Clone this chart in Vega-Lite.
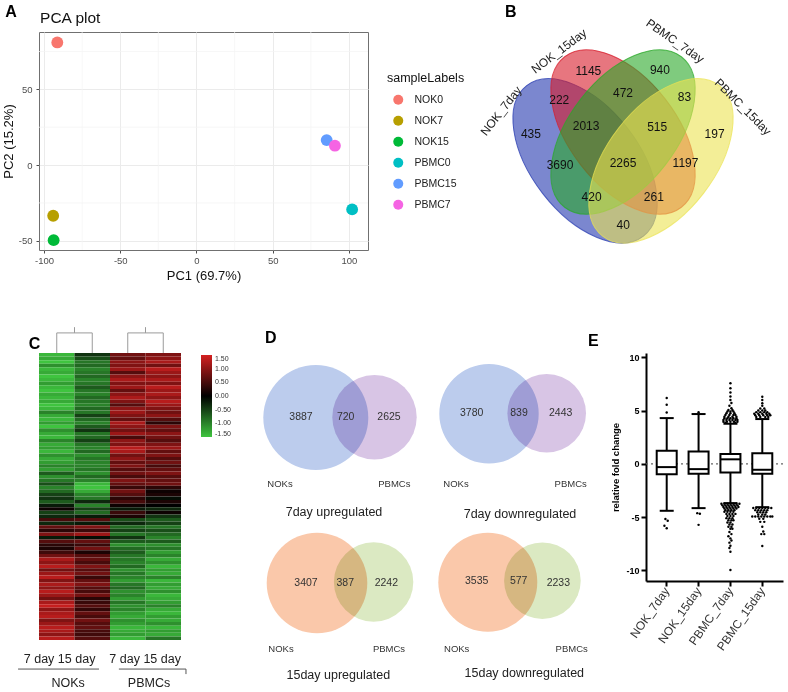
{
"$schema":"https://vega.github.io/schema/vega-lite/v6.json",
"background":"white",
"padding":{"left":1,"top":3,"right":0,"bottom":0},
"autosize":{"type":"pad"},
"config":{"font":"Liberation Sans","view":{"stroke":null}},
"bounds":"flush",
"spacing":321,
"resolve":{"scale":{"color":"independent","fill":"independent","stroke":"independent","size":"independent","opacity":"independent","xOffset":"independent"},"legend":{"color":"independent","fill":"independent","stroke":"independent","size":"independent"}},
"vconcat":[
{"hconcat":[
 {"width":329,"height":218,
  "view":{"stroke":"#707070","strokeWidth":1},
  "layer":[
   {"data":{"values":[{"PC1":-75},{"PC1":-25},{"PC1":25},{"PC1":75}]},
    "mark":{"type":"rule","stroke":"#f3f3f3","strokeWidth":0.7},
    "encoding":{"x":{"field":"PC1","type":"quantitative","scale":{"domain":[-103.3,112.5],"nice":false,"zero":false},"axis":{"values":[-100,-50,0,50,100],"labelExpr":"replace(datum.label, '\u2212', '-')","grid":true,"gridColor":"#ebebeb","gridWidth":1,"domain":false,"tickColor":"#4d4d4d","tickSize":3,"labelColor":"#4d4d4d","labelFontSize":9.5,"labelPadding":2,"title":"PC1 (69.7%)","titleFontSize":13,"titleFontWeight":"normal","titleColor":"#111","titlePadding":5}}}},
   {"data":{"values":[{"PC2":-25},{"PC2":25},{"PC2":75}]},
    "mark":{"type":"rule","stroke":"#f3f3f3","strokeWidth":0.7},
    "encoding":{"y":{"field":"PC2","type":"quantitative","scale":{"domain":[-56.1,87.9],"nice":false,"zero":false},"axis":{"values":[-50,0,50],"labelExpr":"replace(datum.label, '\u2212', '-')","grid":true,"gridColor":"#ebebeb","gridWidth":1,"domain":false,"tickColor":"#4d4d4d","tickSize":3,"labelColor":"#4d4d4d","labelFontSize":9.5,"labelPadding":4,"title":"PC2 (15.2%)","titleFontSize":13,"titleFontWeight":"normal","titleColor":"#111","titlePadding":3}}}},
   {"data":{"values":[
     {"sample":"NOK0","PC1":-91.3,"PC2":81.0},
     {"sample":"NOK7","PC1":-94.0,"PC2":-33.5},
     {"sample":"NOK15","PC1":-93.7,"PC2":-49.6},
     {"sample":"PBMC0","PC1":102.1,"PC2":-29.3},
     {"sample":"PBMC15","PC1":85.4,"PC2":16.5},
     {"sample":"PBMC7","PC1":90.8,"PC2":12.8}]},
    "mark":{"type":"point","filled":true,"size":140,"opacity":1},
    "encoding":{
     "x":{"field":"PC1","type":"quantitative"},
     "y":{"field":"PC2","type":"quantitative"},
     "color":{"field":"sample","type":"nominal","scale":{"domain":["NOK0","NOK7","NOK15","PBMC0","PBMC15","PBMC7"],"range":["#F8766D","#B79F00","#00BA38","#00BFC4","#619CFF","#F564E3"]},
      "legend":{"title":"sampleLabels","orient":"none","legendX":348,"legendY":40,"titleFontSize":12.5,"titleFontWeight":"normal","titleColor":"#111","titlePadding":10,"labelFontSize":10.5,"labelColor":"#222","symbolSize":100,"symbolType":"circle","symbolOffset":6,"labelOffset":11,"rowPadding":10,"symbolStrokeWidth":0,"symbolOpacity":1}}}},
   {"data":{"values":[{"t":"A"}]},
    "mark":{"type":"text","fontSize":16,"fontWeight":"bold","color":"#000"},
    "encoding":{"x":{"datum":-121.6,"type":"quantitative"},"y":{"datum":101.1,"type":"quantitative"},"text":{"field":"t"}}},
   {"data":{"values":[{"t":"PCA plot"}]},
    "mark":{"type":"text","fontSize":15.5,"align":"left","color":"#111"},
    "encoding":{"x":{"datum":-102.6,"type":"quantitative"},"y":{"datum":97.1,"type":"quantitative"},"text":{"field":"t"}}}
  ]},
 {"width":318,"height":218,
  "layer":[
   {"data":{"values":[{"set":"NOK_7day","u":0.35,"v":0.47},{"set":"NOK_15day","u":0.5,"v":0.57}]},
    "mark":{"type":"point","shape":"M 1 0 C 1 0.3105 0.5523 0.5622 0 0.5622 C -0.5523 0.5622 -1 0.3105 -1 0 C -1 -0.3105 -0.5523 -0.5622 0 -0.5622 C 0.5523 -0.5622 1 -0.3105 1 0 Z","size":36290,"angle":52.2,"filled":true,"opacity":1,"fillOpacity":0.6,"strokeOpacity":0.75,"strokeWidth":1},
    "encoding":{"x":{"field":"u","type":"quantitative","scale":{"domain":[-0.1047,1.152],"nice":false,"zero":false},"axis":null},
     "y":{"field":"v","type":"quantitative","scale":{"domain":[0.1603,0.9172],"nice":false,"zero":false},"axis":null},
     "fill":{"field":"set","type":"nominal","scale":{"domain":["NOK_7day","NOK_15day","PBMC_7day","PBMC_15day"],"range":["#2337AF","#D71B2A","#2AA828","#EBE352"]},"legend":null},
     "stroke":{"field":"set","type":"nominal","scale":{"domain":["NOK_7day","NOK_15day","PBMC_7day","PBMC_15day"],"range":["#2337AF","#D71B2A","#2AA828","#EBE352"]},"legend":null}}},
   {"data":{"values":[{"set":"PBMC_7day","u":0.5,"v":0.57},{"set":"PBMC_15day","u":0.65,"v":0.47}]},
    "mark":{"type":"point","shape":"M 1 0 C 1 0.3105 0.5523 0.5622 0 0.5622 C -0.5523 0.5622 -1 0.3105 -1 0 C -1 -0.3105 -0.5523 -0.5622 0 -0.5622 C 0.5523 -0.5622 1 -0.3105 1 0 Z","size":36290,"angle":-52.2,"filled":true,"opacity":1,"fillOpacity":0.6,"strokeOpacity":0.75,"strokeWidth":1},
    "encoding":{"x":{"field":"u","type":"quantitative","axis":null},
     "y":{"field":"v","type":"quantitative","axis":null},
     "fill":{"field":"set","type":"nominal","legend":null},
     "stroke":{"field":"set","type":"nominal","legend":null}}},
   {"data":{"values":[
     {"n":"435","u":0.136,"v":0.562},{"n":"222","u":0.248,"v":0.681},{"n":"1145","u":0.363,"v":0.782},
     {"n":"472","u":0.5,"v":0.704},{"n":"940","u":0.646,"v":0.786},{"n":"83","u":0.743,"v":0.69},
     {"n":"197","u":0.862,"v":0.563},{"n":"2013","u":0.354,"v":0.591},{"n":"515","u":0.635,"v":0.588},
     {"n":"3690","u":0.251,"v":0.455},{"n":"2265","u":0.5,"v":0.461},{"n":"1197","u":0.747,"v":0.461},
     {"n":"420","u":0.376,"v":0.344},{"n":"261","u":0.622,"v":0.344},{"n":"40","u":0.501,"v":0.247}]},
    "mark":{"type":"text","fontSize":12,"color":"#111"},
    "encoding":{"x":{"field":"u","type":"quantitative","axis":null},"y":{"field":"v","type":"quantitative","axis":null},"text":{"field":"n"}}},
   {"data":{"values":[{"lab":"NOK_7day","u":0.018,"v":0.643}]},
    "mark":{"type":"text","fontSize":12,"angle":-52,"color":"#222"},
    "encoding":{"x":{"field":"u","type":"quantitative","axis":null},"y":{"field":"v","type":"quantitative","axis":null},"text":{"field":"lab"}}},
   {"data":{"values":[{"lab":"NOK_15day","u":0.247,"v":0.851}]},
    "mark":{"type":"text","fontSize":12,"angle":-37,"color":"#222"},
    "encoding":{"x":{"field":"u","type":"quantitative","axis":null},"y":{"field":"v","type":"quantitative","axis":null},"text":{"field":"lab"}}},
   {"data":{"values":[{"lab":"PBMC_7day","u":0.706,"v":0.886}]},
    "mark":{"type":"text","fontSize":12,"angle":35,"color":"#222"},
    "encoding":{"x":{"field":"u","type":"quantitative","axis":null},"y":{"field":"v","type":"quantitative","axis":null},"text":{"field":"lab"}}},
   {"data":{"values":[{"lab":"PBMC_15day","u":0.974,"v":0.657}]},
    "mark":{"type":"text","fontSize":12,"angle":45,"color":"#222"},
    "encoding":{"x":{"field":"u","type":"quantitative","axis":null},"y":{"field":"v","type":"quantitative","axis":null},"text":{"field":"lab"}}},
   {"data":{"values":[{"lab":"B","u":0.056,"v":0.987}]},
    "mark":{"type":"text","fontSize":16,"fontWeight":"bold","color":"#000"},
    "encoding":{"x":{"field":"u","type":"quantitative","axis":null},"y":{"field":"v","type":"quantitative","axis":null},"text":{"field":"lab"}}}
  ]}
 ],
 "spacing":102,"bounds":"flush",
 "resolve":{"scale":{"color":"independent","fill":"independent","stroke":"independent","size":"independent","opacity":"independent","xOffset":"independent"},"legend":{"color":"independent","fill":"independent","stroke":"independent","size":"independent"}}},
{"hconcat":[
 {"width":142,"height":287,
  "resolve":{"scale":{"x":"independent","y":"independent"}},
  "layer":[
   {"data":{"values":[
{"r":0,"c":"N7","v":-1.4},{"r":0,"c":"N15","v":-0.4},{"r":0,"c":"P7","v":0.8},{"r":0,"c":"P15","v":0.9},
{"r":1,"c":"N7","v":-1.3},{"r":1,"c":"N15","v":-0.6},{"r":1,"c":"P7","v":0.7},{"r":1,"c":"P15","v":1.0},
{"r":2,"c":"N7","v":-1.5},{"r":2,"c":"N15","v":-0.9},{"r":2,"c":"P7","v":1.0},{"r":2,"c":"P15","v":1.2},
{"r":3,"c":"N7","v":-1.1},{"r":3,"c":"N15","v":-0.8},{"r":3,"c":"P7","v":0.9},{"r":3,"c":"P15","v":0.8},
{"r":4,"c":"N7","v":-1.4},{"r":4,"c":"N15","v":-1.0},{"r":4,"c":"P7","v":1.1},{"r":4,"c":"P15","v":1.3},
{"r":5,"c":"N7","v":-1.3},{"r":5,"c":"N15","v":-0.9},{"r":5,"c":"P7","v":0.6},{"r":5,"c":"P15","v":1.1},
{"r":6,"c":"N7","v":-1.5},{"r":6,"c":"N15","v":-0.8},{"r":6,"c":"P7","v":1.0},{"r":6,"c":"P15","v":1.0},
{"r":7,"c":"N7","v":-1.4},{"r":7,"c":"N15","v":-1.0},{"r":7,"c":"P7","v":1.2},{"r":7,"c":"P15","v":1.2},
{"r":8,"c":"N7","v":-1.2},{"r":8,"c":"N15","v":-0.9},{"r":8,"c":"P7","v":0.9},{"r":8,"c":"P15","v":0.9},
{"r":9,"c":"N7","v":-1.4},{"r":9,"c":"N15","v":-0.7},{"r":9,"c":"P7","v":1.1},{"r":9,"c":"P15","v":1.3},
{"r":10,"c":"N7","v":-1.5},{"r":10,"c":"N15","v":-0.9},{"r":10,"c":"P7","v":0.7},{"r":10,"c":"P15","v":1.1},
{"r":11,"c":"N7","v":-1.3},{"r":11,"c":"N15","v":-1.0},{"r":11,"c":"P7","v":1.0},{"r":11,"c":"P15","v":1.2},
{"r":12,"c":"N7","v":-1.4},{"r":12,"c":"N15","v":-0.8},{"r":12,"c":"P7","v":1.2},{"r":12,"c":"P15","v":1.0},
{"r":13,"c":"N7","v":-1.3},{"r":13,"c":"N15","v":-0.9},{"r":13,"c":"P7","v":0.9},{"r":13,"c":"P15","v":1.3},
{"r":14,"c":"N7","v":-1.5},{"r":14,"c":"N15","v":-1.0},{"r":14,"c":"P7","v":0.6},{"r":14,"c":"P15","v":1.1},
{"r":15,"c":"N7","v":-1.4},{"r":15,"c":"N15","v":-0.8},{"r":15,"c":"P7","v":1.0},{"r":15,"c":"P15","v":0.9},
{"r":16,"c":"N7","v":-1.0},{"r":16,"c":"N15","v":-0.9},{"r":16,"c":"P7","v":1.1},{"r":16,"c":"P15","v":0.8},
{"r":17,"c":"N7","v":-1.3},{"r":17,"c":"N15","v":-0.5},{"r":17,"c":"P7","v":0.9},{"r":17,"c":"P15","v":1.0},
{"r":18,"c":"N7","v":-1.4},{"r":18,"c":"N15","v":-0.8},{"r":18,"c":"P7","v":0.7},{"r":18,"c":"P15","v":0.6},
{"r":19,"c":"N7","v":-1.2},{"r":19,"c":"N15","v":-1.0},{"r":19,"c":"P7","v":1.2},{"r":19,"c":"P15","v":0.3},
{"r":20,"c":"N7","v":-1.5},{"r":20,"c":"N15","v":-0.7},{"r":20,"c":"P7","v":1.0},{"r":20,"c":"P15","v":0.9},
{"r":21,"c":"N7","v":-1.1},{"r":21,"c":"N15","v":-0.4},{"r":21,"c":"P7","v":0.8},{"r":21,"c":"P15","v":0.7},
{"r":22,"c":"N7","v":-1.3},{"r":22,"c":"N15","v":-0.9},{"r":22,"c":"P7","v":1.1},{"r":22,"c":"P15","v":1.0},
{"r":23,"c":"N7","v":-1.4},{"r":23,"c":"N15","v":-0.8},{"r":23,"c":"P7","v":0.5},{"r":23,"c":"P15","v":0.8},
{"r":24,"c":"N7","v":-1.0},{"r":24,"c":"N15","v":-0.5},{"r":24,"c":"P7","v":1.0},{"r":24,"c":"P15","v":0.6},
{"r":25,"c":"N7","v":-1.3},{"r":25,"c":"N15","v":-0.9},{"r":25,"c":"P7","v":0.9},{"r":25,"c":"P15","v":0.9},
{"r":26,"c":"N7","v":-1.2},{"r":26,"c":"N15","v":-1.0},{"r":26,"c":"P7","v":1.3},{"r":26,"c":"P15","v":1.1},
{"r":27,"c":"N7","v":-1.4},{"r":27,"c":"N15","v":-0.8},{"r":27,"c":"P7","v":1.2},{"r":27,"c":"P15","v":0.7},
{"r":28,"c":"N7","v":-1.1},{"r":28,"c":"N15","v":-1.1},{"r":28,"c":"P7","v":0.8},{"r":28,"c":"P15","v":0.9},
{"r":29,"c":"N7","v":-1.3},{"r":29,"c":"N15","v":-0.9},{"r":29,"c":"P7","v":1.0},{"r":29,"c":"P15","v":0.6},
{"r":30,"c":"N7","v":-1.2},{"r":30,"c":"N15","v":-1.0},{"r":30,"c":"P7","v":0.7},{"r":30,"c":"P15","v":0.8},
{"r":31,"c":"N7","v":-1.0},{"r":31,"c":"N15","v":-1.0},{"r":31,"c":"P7","v":0.9},{"r":31,"c":"P15","v":0.5},
{"r":32,"c":"N7","v":-1.2},{"r":32,"c":"N15","v":-0.9},{"r":32,"c":"P7","v":0.6},{"r":32,"c":"P15","v":0.7},
{"r":33,"c":"N7","v":-0.7},{"r":33,"c":"N15","v":-1.1},{"r":33,"c":"P7","v":0.8},{"r":33,"c":"P15","v":0.9},
{"r":34,"c":"N7","v":-1.1},{"r":34,"c":"N15","v":-0.8},{"r":34,"c":"P7","v":0.5},{"r":34,"c":"P15","v":0.6},
{"r":35,"c":"N7","v":-0.9},{"r":35,"c":"N15","v":-1.0},{"r":35,"c":"P7","v":0.9},{"r":35,"c":"P15","v":0.7},
{"r":36,"c":"N7","v":-0.6},{"r":36,"c":"N15","v":-1.4},{"r":36,"c":"P7","v":0.7},{"r":36,"c":"P15","v":0.8},
{"r":37,"c":"N7","v":-1.0},{"r":37,"c":"N15","v":-1.5},{"r":37,"c":"P7","v":0.4},{"r":37,"c":"P15","v":0.3},
{"r":38,"c":"N7","v":-0.8},{"r":38,"c":"N15","v":-1.3},{"r":38,"c":"P7","v":0.8},{"r":38,"c":"P15","v":0.1},
{"r":39,"c":"N7","v":-0.5},{"r":39,"c":"N15","v":-1.0},{"r":39,"c":"P7","v":0.6},{"r":39,"c":"P15","v":0.2},
{"r":40,"c":"N7","v":-0.4},{"r":40,"c":"N15","v":-0.9},{"r":40,"c":"P7","v":0.3},{"r":40,"c":"P15","v":-0.1},
{"r":41,"c":"N7","v":-0.7},{"r":41,"c":"N15","v":-0.3},{"r":41,"c":"P7","v":0.5},{"r":41,"c":"P15","v":0.2},
{"r":42,"c":"N7","v":-0.2},{"r":42,"c":"N15","v":-1.0},{"r":42,"c":"P7","v":0.1},{"r":42,"c":"P15","v":0.0},
{"r":43,"c":"N7","v":0.1},{"r":43,"c":"N15","v":-0.5},{"r":43,"c":"P7","v":-0.2},{"r":43,"c":"P15","v":-0.3},
{"r":44,"c":"N7","v":-0.5},{"r":44,"c":"N15","v":-0.8},{"r":44,"c":"P7","v":0.4},{"r":44,"c":"P15","v":0.1},
{"r":45,"c":"N7","v":-0.3},{"r":45,"c":"N15","v":-0.2},{"r":45,"c":"P7","v":0.2},{"r":45,"c":"P15","v":-0.4},
{"r":46,"c":"N7","v":0.5},{"r":46,"c":"N15","v":0.6},{"r":46,"c":"P7","v":-0.6},{"r":46,"c":"P15","v":-0.7},
{"r":47,"c":"N7","v":-0.3},{"r":47,"c":"N15","v":-0.2},{"r":47,"c":"P7","v":-0.3},{"r":47,"c":"P15","v":-0.5},
{"r":48,"c":"N7","v":0.7},{"r":48,"c":"N15","v":0.9},{"r":48,"c":"P7","v":-0.8},{"r":48,"c":"P15","v":-0.9},
{"r":49,"c":"N7","v":0.3},{"r":49,"c":"N15","v":0.4},{"r":49,"c":"P7","v":-0.5},{"r":49,"c":"P15","v":-0.6},
{"r":50,"c":"N7","v":0.9},{"r":50,"c":"N15","v":1.1},{"r":50,"c":"P7","v":-0.9},{"r":50,"c":"P15","v":-0.8},
{"r":51,"c":"N7","v":-0.2},{"r":51,"c":"N15","v":-0.1},{"r":51,"c":"P7","v":-0.4},{"r":51,"c":"P15","v":-1.0},
{"r":52,"c":"N7","v":0.6},{"r":52,"c":"N15","v":0.7},{"r":52,"c":"P7","v":-0.7},{"r":52,"c":"P15","v":-0.7},
{"r":53,"c":"N7","v":0.3},{"r":53,"c":"N15","v":0.4},{"r":53,"c":"P7","v":-1.1},{"r":53,"c":"P15","v":-1.1},
{"r":54,"c":"N7","v":0.2},{"r":54,"c":"N15","v":0.8},{"r":54,"c":"P7","v":-0.8},{"r":54,"c":"P15","v":-0.9},
{"r":55,"c":"N7","v":0.45},{"r":55,"c":"N15","v":0.2},{"r":55,"c":"P7","v":-0.7},{"r":55,"c":"P15","v":-1.2},
{"r":56,"c":"N7","v":0.8},{"r":56,"c":"N15","v":0.6},{"r":56,"c":"P7","v":-0.9},{"r":56,"c":"P15","v":-1.0},
{"r":57,"c":"N7","v":1.2},{"r":57,"c":"N15","v":0.7},{"r":57,"c":"P7","v":-0.9},{"r":57,"c":"P15","v":-1.3},
{"r":58,"c":"N7","v":1.0},{"r":58,"c":"N15","v":0.5},{"r":58,"c":"P7","v":-1.0},{"r":58,"c":"P15","v":-1.1},
{"r":59,"c":"N7","v":1.3},{"r":59,"c":"N15","v":0.9},{"r":59,"c":"P7","v":-0.8},{"r":59,"c":"P15","v":-1.4},
{"r":60,"c":"N7","v":0.8},{"r":60,"c":"N15","v":0.6},{"r":60,"c":"P7","v":-1.1},{"r":60,"c":"P15","v":-1.2},
{"r":61,"c":"N7","v":1.1},{"r":61,"c":"N15","v":0.8},{"r":61,"c":"P7","v":-0.9},{"r":61,"c":"P15","v":-1.3},
{"r":62,"c":"N7","v":1.3},{"r":62,"c":"N15","v":0.4},{"r":62,"c":"P7","v":-1.0},{"r":62,"c":"P15","v":-1.0},
{"r":63,"c":"N7","v":0.9},{"r":63,"c":"N15","v":0.7},{"r":63,"c":"P7","v":-1.2},{"r":63,"c":"P15","v":-1.4},
{"r":64,"c":"N7","v":1.2},{"r":64,"c":"N15","v":0.9},{"r":64,"c":"P7","v":-0.9},{"r":64,"c":"P15","v":-1.2},
{"r":65,"c":"N7","v":1.0},{"r":65,"c":"N15","v":0.6},{"r":65,"c":"P7","v":-0.8},{"r":65,"c":"P15","v":-1.3},
{"r":66,"c":"N7","v":1.3},{"r":66,"c":"N15","v":0.5},{"r":66,"c":"P7","v":-1.1},{"r":66,"c":"P15","v":-1.1},
{"r":67,"c":"N7","v":1.1},{"r":67,"c":"N15","v":0.8},{"r":67,"c":"P7","v":-1.0},{"r":67,"c":"P15","v":-1.4},
{"r":68,"c":"N7","v":0.8},{"r":68,"c":"N15","v":0.3},{"r":68,"c":"P7","v":-1.2},{"r":68,"c":"P15","v":-1.3},
{"r":69,"c":"N7","v":1.2},{"r":69,"c":"N15","v":0.4},{"r":69,"c":"P7","v":-0.9},{"r":69,"c":"P15","v":-1.2},
{"r":70,"c":"N7","v":1.4},{"r":70,"c":"N15","v":0.6},{"r":70,"c":"P7","v":-1.1},{"r":70,"c":"P15","v":-1.0},
{"r":71,"c":"N7","v":1.0},{"r":71,"c":"N15","v":0.35},{"r":71,"c":"P7","v":-1.0},{"r":71,"c":"P15","v":-1.3},
{"r":72,"c":"N7","v":1.2},{"r":72,"c":"N15","v":0.7},{"r":72,"c":"P7","v":-1.2},{"r":72,"c":"P15","v":-1.4},
{"r":73,"c":"N7","v":1.3},{"r":73,"c":"N15","v":0.5},{"r":73,"c":"P7","v":-1.3},{"r":73,"c":"P15","v":-1.2},
{"r":74,"c":"N7","v":0.9},{"r":74,"c":"N15","v":0.8},{"r":74,"c":"P7","v":-1.1},{"r":74,"c":"P15","v":-1.3},
{"r":75,"c":"N7","v":1.1},{"r":75,"c":"N15","v":0.6},{"r":75,"c":"P7","v":-1.2},{"r":75,"c":"P15","v":-1.1},
{"r":76,"c":"N7","v":1.3},{"r":76,"c":"N15","v":0.7},{"r":76,"c":"P7","v":-1.4},{"r":76,"c":"P15","v":-1.4},
{"r":77,"c":"N7","v":1.2},{"r":77,"c":"N15","v":0.5},{"r":77,"c":"P7","v":-1.3},{"r":77,"c":"P15","v":-1.2},
{"r":78,"c":"N7","v":1.0},{"r":78,"c":"N15","v":0.45},{"r":78,"c":"P7","v":-1.2},{"r":78,"c":"P15","v":-1.3},
{"r":79,"c":"N7","v":1.3},{"r":79,"c":"N15","v":0.6},{"r":79,"c":"P7","v":-1.4},{"r":79,"c":"P15","v":-0.9}
    ]},
    "mark":{"type":"rect"},
    "encoding":{
     "x":{"field":"c","type":"nominal","sort":["N7","N15","P7","P15"],"scale":{"type":"band","paddingInner":0,"paddingOuter":0},"axis":null},
     "y":{"field":"r","type":"ordinal","scale":{"type":"band","paddingInner":0,"paddingOuter":0},"axis":null},
     "color":{"field":"v","type":"quantitative","scale":{"domain":[-1.5,0,1.5],"range":["#3fc43f","#000000","#d42020"],"clamp":true,"interpolate":"rgb"},
      "legend":{"type":"gradient","title":null,"orient":"none","legendX":162,"legendY":2,"direction":"vertical","gradientLength":82,"gradientThickness":11,"values":[-1.5,-1,-0.5,0,0.5,1,1.5],"format":".2f","labelExpr":"replace(datum.label, '\u2212', '-')","labelFontSize":7,"labelColor":"#333","labelOffset":3,"labelOverlap":false,"gradientStrokeWidth":0}}}},
   {"data":{"values":[
     {"cx":0.5,"cx2":0.5,"cy":0,"cy2":-5.6},{"cx":1.5,"cx2":1.5,"cy":0,"cy2":-5.6},{"cx":0.5,"cx2":1.5,"cy":-5.6,"cy2":-5.6},{"cx":1,"cx2":1,"cy":-5.6,"cy2":-7.2},
     {"cx":2.5,"cx2":2.5,"cy":0,"cy2":-5.6},{"cx":3.5,"cx2":3.5,"cy":0,"cy2":-5.6},{"cx":2.5,"cx2":3.5,"cy":-5.6,"cy2":-5.6},{"cx":3,"cx2":3,"cy":-5.6,"cy2":-7.2}]},
    "mark":{"type":"rule","stroke":"#9a9a9a","strokeWidth":1},
    "encoding":{"x":{"field":"cx","type":"quantitative","scale":{"domain":[0,4],"nice":false,"zero":false},"axis":null},"x2":{"field":"cx2"},
     "y":{"field":"cy","type":"quantitative","scale":{"domain":[0,80],"reverse":true,"nice":false,"zero":false},"axis":null},"y2":{"field":"cy2"}}},
   {"data":{"values":[
     {"cx":-0.59,"cx2":1.69,"cy":88.1,"cy2":88.1},{"cx":2.25,"cx2":4.14,"cy":88.1,"cy2":88.1},{"cx":4.14,"cx2":4.14,"cy":88.1,"cy2":89.5}]},
    "mark":{"type":"rule","stroke":"#555","strokeWidth":1},
    "encoding":{"x":{"field":"cx","type":"quantitative","scale":{"domain":[0,4],"nice":false,"zero":false},"axis":null},"x2":{"field":"cx2"},
     "y":{"field":"cy","type":"quantitative","scale":{"domain":[0,80],"reverse":true,"nice":false,"zero":false},"axis":null},"y2":{"field":"cy2"}}},
   {"data":{"values":[
     {"cx":0.58,"cy":85.3,"t":"7 day 15 day"},{"cx":2.99,"cy":85.3,"t":"7 day 15 day"},
     {"cx":0.82,"cy":92,"t":"NOKs"},{"cx":3.1,"cy":92,"t":"PBMCs"}]},
    "mark":{"type":"text","fontSize":12.5,"color":"#222"},
    "encoding":{"x":{"field":"cx","type":"quantitative","scale":{"domain":[0,4],"nice":false,"zero":false},"axis":null},
     "y":{"field":"cy","type":"quantitative","scale":{"domain":[0,80],"reverse":true,"nice":false,"zero":false},"axis":null},"text":{"field":"t"}}},
   {"data":{"values":[{"cx":-0.127,"cy":-2.5,"t":"C"}]},
    "mark":{"type":"text","fontSize":16,"fontWeight":"bold","color":"#000"},
    "encoding":{"x":{"field":"cx","type":"quantitative","scale":{"domain":[0,4],"nice":false,"zero":false},"axis":null},
     "y":{"field":"cy","type":"quantitative","scale":{"domain":[0,80],"reverse":true,"nice":false,"zero":false},"axis":null},"text":{"field":"t"}}}
  ]},
 {"width":363,"height":330,
  "layer":[
   {"data":{"values":[
     {"k":"NOK7","x":6.08,"y":6.45,"r":5.25},{"k":"PB7","x":11.95,"y":6.42,"r":4.22},
     {"k":"NOK7","x":23.4,"y":6.07,"r":4.97},{"k":"PB7","x":29.17,"y":6.03,"r":3.93},
     {"k":"NOK15","x":6.2,"y":23.0,"r":5.03},{"k":"PB15","x":11.86,"y":22.9,"r":3.97},
     {"k":"NOK15","x":23.28,"y":22.92,"r":4.95},{"k":"PB15","x":28.74,"y":22.77,"r":3.83}]},
    "mark":{"type":"point","shape":"circle","filled":true,"opacity":1,"blend":"multiply"},
    "encoding":{"x":{"field":"x","type":"quantitative","scale":{"domain":[-2.3,34],"nice":false,"zero":false},"axis":null},
     "y":{"field":"y","type":"quantitative","scale":{"domain":[0,33],"reverse":true,"nice":false,"zero":false},"axis":null},
     "size":{"field":"r","type":"quantitative","scale":{"type":"pow","exponent":2,"domain":[0,10],"range":[0,40000],"zero":true},"legend":null},
     "fill":{"field":"k","type":"nominal","scale":{"domain":["NOK7","PB7","NOK15","PB15"],"range":["#bccced","#d8c5e5","#fac8aa","#dbe9c2"]},"legend":null}}},
   {"data":{"values":[
     {"x":4.6,"y":6.4,"t":"3887"},{"x":9.07,"y":6.4,"t":"720"},{"x":13.4,"y":6.4,"t":"2625"},
     {"x":21.67,"y":6.0,"t":"3780"},{"x":26.4,"y":6.0,"t":"839"},{"x":30.57,"y":6.0,"t":"2443"},
     {"x":5.1,"y":23.0,"t":"3407"},{"x":9.03,"y":23.0,"t":"387"},{"x":13.13,"y":23.0,"t":"2242"},
     {"x":22.17,"y":22.8,"t":"3535"},{"x":26.37,"y":22.8,"t":"577"},{"x":30.33,"y":23.0,"t":"2233"}]},
    "mark":{"type":"text","fontSize":10.5,"color":"#333"},
    "encoding":{"x":{"field":"x","type":"quantitative","axis":null},"y":{"field":"y","type":"quantitative","axis":null},"text":{"field":"t"}}},
   {"data":{"values":[
     {"x":2.5,"y":13.1,"t":"NOKs"},{"x":13.93,"y":13.1,"t":"PBMCs"},
     {"x":20.1,"y":13.1,"t":"NOKs"},{"x":31.57,"y":13.1,"t":"PBMCs"},
     {"x":2.6,"y":29.6,"t":"NOKs"},{"x":13.4,"y":29.6,"t":"PBMCs"},
     {"x":20.17,"y":29.6,"t":"NOKs"},{"x":31.67,"y":29.6,"t":"PBMCs"}]},
    "mark":{"type":"text","fontSize":9.5,"color":"#333"},
    "encoding":{"x":{"field":"x","type":"quantitative","axis":null},"y":{"field":"y","type":"quantitative","axis":null},"text":{"field":"t"}}},
   {"data":{"values":[
     {"x":7.9,"y":15.9,"t":"7day upregulated"},{"x":26.5,"y":16.07,"t":"7day downregulated"},
     {"x":8.33,"y":32.2,"t":"15day upregulated"},{"x":26.93,"y":32.03,"t":"15day downregulated"}]},
    "mark":{"type":"text","fontSize":12.5,"color":"#222"},
    "encoding":{"x":{"field":"x","type":"quantitative","axis":null},"y":{"field":"y","type":"quantitative","axis":null},"text":{"field":"t"}}},
   {"data":{"values":[{"x":1.57,"y":-1.47,"t":"D"}]},
    "mark":{"type":"text","fontSize":16,"fontWeight":"bold","color":"#000"},
    "encoding":{"x":{"field":"x","type":"quantitative","axis":null},"y":{"field":"y","type":"quantitative","axis":null},"text":{"field":"t"}}}
  ]},
 {"width":137,"height":228,
  "title":{"text":"E","anchor":"start","frame":"group","dx":-58,"fontSize":16,"fontWeight":"bold","color":"#000","offset":4},
  "data":{"values":[
    {"g":"NOK_7day","lo":-4.41,"q1":-0.97,"med":-0.31,"q3":1.22,"hi":4.29},
    {"g":"NOK_15day","lo":-4.16,"q1":-0.94,"med":-0.5,"q3":1.16,"hi":4.67},
    {"g":"PBMC_7day","lo":-3.69,"q1":-0.82,"med":0.42,"q3":0.93,"hi":3.76},
    {"g":"PBMC_15day","lo":-4.07,"q1":-0.94,"med":-0.56,"q3":1.0,"hi":4.2}]},
  "layer":[
   {"mark":{"type":"rule","stroke":"#000","strokeWidth":2},
    "encoding":{
     "x":{"field":"g","type":"nominal","scale":{"type":"band","domain":["NOK_7day","NOK_15day","PBMC_7day","PBMC_15day"],"paddingInner":0,"paddingOuter":0.15},
      "axis":{"title":null,"labelAngle":-55,"labelFontSize":12,"labelColor":"#333","domainColor":"#000","domainWidth":2,"tickColor":"#000","tickWidth":2,"tickSize":5,"labelPadding":2}},
     "y":{"field":"lo","type":"quantitative","scale":{"domain":[-11,10.4],"nice":false,"zero":false},
      "axis":{"values":[-10,-5,0,5,10],"labelExpr":"replace(datum.label, '\u2212', '-')","grid":false,"domainColor":"#000","domainWidth":2,"tickColor":"#000","tickWidth":2,"tickSize":5,"labelFontWeight":"bold","labelFontSize":9,"labelColor":"#000","labelPadding":2,"title":"relative fold change","titleFontSize":9.5,"titleFontWeight":"bold","titleColor":"#000","titlePadding":5}},
     "y2":{"field":"hi"}}},
   {"data":{"values":[{"lo":0}]},
    "mark":{"type":"rule","stroke":"#666","strokeDash":[2,3],"strokeWidth":1.2},
    "encoding":{"y":{"field":"lo","type":"quantitative"}}},
   {"mark":{"type":"bar","width":20,"fill":"#fff","stroke":"#000","strokeWidth":2},
    "encoding":{"x":{"field":"g","type":"nominal"},"y":{"field":"q1","type":"quantitative"},"y2":{"field":"q3"}}},
   {"mark":{"type":"tick","color":"#000","thickness":2,"size":20,"opacity":1},
    "encoding":{"x":{"field":"g","type":"nominal"},"y":{"field":"med","type":"quantitative"}}},
   {"mark":{"type":"tick","color":"#000","thickness":2,"size":14,"opacity":1},
    "encoding":{"x":{"field":"g","type":"nominal"},"y":{"field":"lo","type":"quantitative"}}},
   {"mark":{"type":"tick","color":"#000","thickness":2,"size":14,"opacity":1},
    "encoding":{"x":{"field":"g","type":"nominal"},"y":{"field":"hi","type":"quantitative"}}},
   {"data":{"values":[
{"g":"NOK_7day","v":6.17,"j":0},{"g":"NOK_7day","v":5.54,"j":0},{"g":"NOK_7day","v":4.82,"j":0},
{"g":"NOK_7day","v":-5.19,"j":-0.13},{"g":"NOK_7day","v":-5.35,"j":0.1},{"g":"NOK_7day","v":-5.82,"j":-0.23},{"g":"NOK_7day","v":-6.04,"j":0},
{"g":"NOK_15day","v":4.85,"j":0},{"g":"NOK_15day","v":-4.63,"j":-0.13},{"g":"NOK_15day","v":-4.69,"j":0.13},{"g":"NOK_15day","v":-5.73,"j":0},
{"g":"PBMC_7day","v":7.56,"j":0},{"g":"PBMC_7day","v":7.09,"j":0},{"g":"PBMC_7day","v":6.69,"j":0},{"g":"PBMC_7day","v":6.32,"j":0},
{"g":"PBMC_7day","v":5.99,"j":0},{"g":"PBMC_7day","v":5.7,"j":0.1},{"g":"PBMC_7day","v":5.44,"j":-0.1},{"g":"PBMC_7day","v":5.22,"j":0.1},
{"g":"PBMC_7day","v":5.05,"j":-0.2},{"g":"PBMC_7day","v":5.05,"j":0.2},
{"g":"PBMC_7day","v":4.9,"j":-0.3},{"g":"PBMC_7day","v":4.9,"j":0},{"g":"PBMC_7day","v":4.9,"j":0.3},
{"g":"PBMC_7day","v":4.74,"j":-0.4},{"g":"PBMC_7day","v":4.74,"j":0},{"g":"PBMC_7day","v":4.74,"j":0.4},
{"g":"PBMC_7day","v":4.58,"j":-0.5},{"g":"PBMC_7day","v":4.58,"j":-0.1},{"g":"PBMC_7day","v":4.58,"j":0.3},{"g":"PBMC_7day","v":4.58,"j":0.5},
{"g":"PBMC_7day","v":4.42,"j":-0.6},{"g":"PBMC_7day","v":4.42,"j":-0.2},{"g":"PBMC_7day","v":4.42,"j":0.2},{"g":"PBMC_7day","v":4.42,"j":0.6},
{"g":"PBMC_7day","v":4.27,"j":-0.6},{"g":"PBMC_7day","v":4.27,"j":-0.3},{"g":"PBMC_7day","v":4.27,"j":0},{"g":"PBMC_7day","v":4.27,"j":0.3},{"g":"PBMC_7day","v":4.27,"j":0.6},
{"g":"PBMC_7day","v":4.11,"j":-0.7},{"g":"PBMC_7day","v":4.11,"j":-0.4},{"g":"PBMC_7day","v":4.11,"j":-0.1},{"g":"PBMC_7day","v":4.11,"j":0.2},{"g":"PBMC_7day","v":4.11,"j":0.5},{"g":"PBMC_7day","v":4.11,"j":0.7},
{"g":"PBMC_7day","v":3.95,"j":-0.7},{"g":"PBMC_7day","v":3.95,"j":-0.35},{"g":"PBMC_7day","v":3.95,"j":0},{"g":"PBMC_7day","v":3.95,"j":0.35},{"g":"PBMC_7day","v":3.95,"j":0.7},
{"g":"PBMC_7day","v":3.85,"j":-0.5},{"g":"PBMC_7day","v":3.85,"j":0.5},
{"g":"PBMC_7day","v":-3.75,"j":-0.9},{"g":"PBMC_7day","v":-3.75,"j":-0.6},{"g":"PBMC_7day","v":-3.75,"j":-0.3},{"g":"PBMC_7day","v":-3.75,"j":0},{"g":"PBMC_7day","v":-3.75,"j":0.3},{"g":"PBMC_7day","v":-3.75,"j":0.6},{"g":"PBMC_7day","v":-3.75,"j":0.9},
{"g":"PBMC_7day","v":-3.9,"j":-0.8},{"g":"PBMC_7day","v":-3.9,"j":-0.5},{"g":"PBMC_7day","v":-3.9,"j":-0.2},{"g":"PBMC_7day","v":-3.9,"j":0.1},{"g":"PBMC_7day","v":-3.9,"j":0.4},{"g":"PBMC_7day","v":-3.9,"j":0.7},
{"g":"PBMC_7day","v":-4.05,"j":-0.7},{"g":"PBMC_7day","v":-4.05,"j":-0.4},{"g":"PBMC_7day","v":-4.05,"j":-0.1},{"g":"PBMC_7day","v":-4.05,"j":0.2},{"g":"PBMC_7day","v":-4.05,"j":0.5},{"g":"PBMC_7day","v":-4.05,"j":0.8},
{"g":"PBMC_7day","v":-4.2,"j":-0.6},{"g":"PBMC_7day","v":-4.2,"j":-0.3},{"g":"PBMC_7day","v":-4.2,"j":0},{"g":"PBMC_7day","v":-4.2,"j":0.3},{"g":"PBMC_7day","v":-4.2,"j":0.6},
{"g":"PBMC_7day","v":-4.35,"j":-0.5},{"g":"PBMC_7day","v":-4.35,"j":-0.2},{"g":"PBMC_7day","v":-4.35,"j":0.1},{"g":"PBMC_7day","v":-4.35,"j":0.4},
{"g":"PBMC_7day","v":-4.5,"j":-0.6},{"g":"PBMC_7day","v":-4.5,"j":-0.3},{"g":"PBMC_7day","v":-4.5,"j":0},{"g":"PBMC_7day","v":-4.5,"j":0.3},
{"g":"PBMC_7day","v":-4.7,"j":-0.4},{"g":"PBMC_7day","v":-4.7,"j":-0.1},{"g":"PBMC_7day","v":-4.7,"j":0.2},{"g":"PBMC_7day","v":-4.7,"j":0.5},
{"g":"PBMC_7day","v":-4.9,"j":-0.3},{"g":"PBMC_7day","v":-4.9,"j":0},{"g":"PBMC_7day","v":-4.9,"j":0.3},
{"g":"PBMC_7day","v":-5.1,"j":-0.4},{"g":"PBMC_7day","v":-5.1,"j":-0.1},{"g":"PBMC_7day","v":-5.1,"j":0.2},
{"g":"PBMC_7day","v":-5.3,"j":-0.2},{"g":"PBMC_7day","v":-5.3,"j":0.1},{"g":"PBMC_7day","v":-5.3,"j":0.3},
{"g":"PBMC_7day","v":-5.5,"j":-0.3},{"g":"PBMC_7day","v":-5.5,"j":0},
{"g":"PBMC_7day","v":-5.7,"j":-0.1},{"g":"PBMC_7day","v":-5.7,"j":0.2},
{"g":"PBMC_7day","v":-5.9,"j":-0.2},{"g":"PBMC_7day","v":-5.9,"j":0.1},
{"g":"PBMC_7day","v":-6.1,"j":0},{"g":"PBMC_7day","v":-6.1,"j":0.2},
{"g":"PBMC_7day","v":-6.4,"j":-0.1},{"g":"PBMC_7day","v":-6.6,"j":0.1},{"g":"PBMC_7day","v":-6.8,"j":-0.2},{"g":"PBMC_7day","v":-7.0,"j":0},
{"g":"PBMC_7day","v":-7.2,"j":0.1},{"g":"PBMC_7day","v":-7.4,"j":-0.1},{"g":"PBMC_7day","v":-7.7,"j":0},{"g":"PBMC_7day","v":-7.9,"j":-0.1},
{"g":"PBMC_7day","v":-8.25,"j":0},{"g":"PBMC_7day","v":-9.97,"j":0},
{"g":"PBMC_15day","v":6.3,"j":0},{"g":"PBMC_15day","v":5.99,"j":0},{"g":"PBMC_15day","v":5.68,"j":0},{"g":"PBMC_15day","v":5.44,"j":0},
{"g":"PBMC_15day","v":5.2,"j":-0.2},{"g":"PBMC_15day","v":5.2,"j":0.2},
{"g":"PBMC_15day","v":5.0,"j":-0.4},{"g":"PBMC_15day","v":5.0,"j":0},{"g":"PBMC_15day","v":5.0,"j":0.3},
{"g":"PBMC_15day","v":4.85,"j":-0.6},{"g":"PBMC_15day","v":4.85,"j":-0.2},{"g":"PBMC_15day","v":4.85,"j":0.2},{"g":"PBMC_15day","v":4.85,"j":0.5},
{"g":"PBMC_15day","v":4.7,"j":-0.8},{"g":"PBMC_15day","v":4.7,"j":-0.4},{"g":"PBMC_15day","v":4.7,"j":0},{"g":"PBMC_15day","v":4.7,"j":0.4},{"g":"PBMC_15day","v":4.7,"j":0.7},
{"g":"PBMC_15day","v":4.55,"j":-0.7},{"g":"PBMC_15day","v":4.55,"j":-0.3},{"g":"PBMC_15day","v":4.55,"j":0.1},{"g":"PBMC_15day","v":4.55,"j":0.5},{"g":"PBMC_15day","v":4.55,"j":0.8},
{"g":"PBMC_15day","v":4.4,"j":-0.6},{"g":"PBMC_15day","v":4.4,"j":-0.2},{"g":"PBMC_15day","v":4.4,"j":0.3},{"g":"PBMC_15day","v":4.4,"j":0.6},
{"g":"PBMC_15day","v":-4.15,"j":-0.9},{"g":"PBMC_15day","v":-4.15,"j":-0.6},{"g":"PBMC_15day","v":-4.15,"j":-0.3},{"g":"PBMC_15day","v":-4.15,"j":0},{"g":"PBMC_15day","v":-4.15,"j":0.3},{"g":"PBMC_15day","v":-4.15,"j":0.6},{"g":"PBMC_15day","v":-4.15,"j":0.9},
{"g":"PBMC_15day","v":-4.35,"j":-0.7},{"g":"PBMC_15day","v":-4.35,"j":-0.4},{"g":"PBMC_15day","v":-4.35,"j":-0.1},{"g":"PBMC_15day","v":-4.35,"j":0.2},{"g":"PBMC_15day","v":-4.35,"j":0.5},
{"g":"PBMC_15day","v":-4.55,"j":-0.5},{"g":"PBMC_15day","v":-4.55,"j":-0.2},{"g":"PBMC_15day","v":-4.55,"j":0.1},{"g":"PBMC_15day","v":-4.55,"j":0.4},
{"g":"PBMC_15day","v":-4.75,"j":-0.4},{"g":"PBMC_15day","v":-4.75,"j":0},{"g":"PBMC_15day","v":-4.75,"j":0.3},
{"g":"PBMC_15day","v":-4.95,"j":-1.0},{"g":"PBMC_15day","v":-4.95,"j":-0.7},{"g":"PBMC_15day","v":-4.95,"j":-0.4},{"g":"PBMC_15day","v":-4.95,"j":-0.1},{"g":"PBMC_15day","v":-4.95,"j":0.2},{"g":"PBMC_15day","v":-4.95,"j":0.5},{"g":"PBMC_15day","v":-4.95,"j":0.8},{"g":"PBMC_15day","v":-4.95,"j":1.0},
{"g":"PBMC_15day","v":-5.15,"j":-0.3},{"g":"PBMC_15day","v":-5.15,"j":0.1},
{"g":"PBMC_15day","v":-5.45,"j":-0.2},{"g":"PBMC_15day","v":-5.45,"j":0.2},
{"g":"PBMC_15day","v":-5.9,"j":0},{"g":"PBMC_15day","v":-6.35,"j":0.1},{"g":"PBMC_15day","v":-6.6,"j":-0.1},{"g":"PBMC_15day","v":-6.6,"j":0.2},{"g":"PBMC_15day","v":-7.72,"j":0}
    ]},
    "mark":{"type":"point","filled":true,"size":6,"color":"#000","opacity":1},
    "encoding":{"x":{"field":"g","type":"nominal"},"y":{"field":"v","type":"quantitative"},
     "xOffset":{"field":"j","type":"quantitative","scale":{"domain":[-1,1],"range":[5.93,25.93]}}}}
  ]}
 ],
 "spacing":51,"bounds":"flush",
 "resolve":{"scale":{"color":"independent","fill":"independent","stroke":"independent","size":"independent","opacity":"independent","xOffset":"independent"},"legend":{"color":"independent","fill":"independent","stroke":"independent","size":"independent"}}}
]
}
